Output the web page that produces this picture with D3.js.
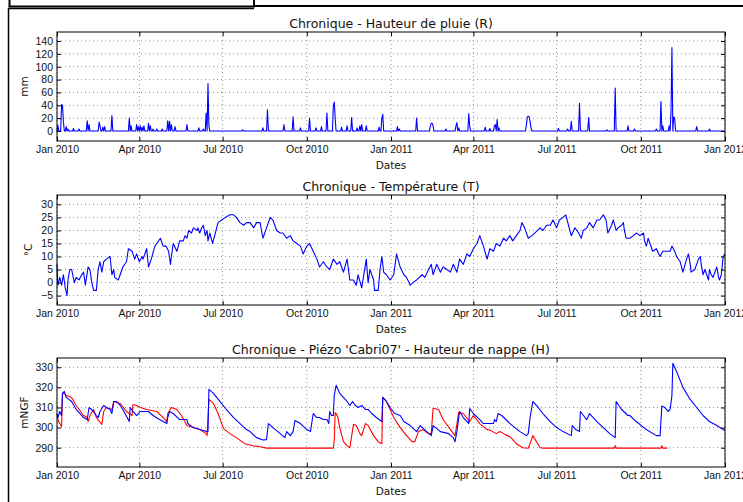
<!DOCTYPE html>
<html>
<head>
<meta charset="utf-8">
<script src="https://cdn.jsdelivr.net/npm/d3@7"></script>
<style>
body{margin:0;background:#fff;overflow:hidden;}
svg{display:block;font-family:"DejaVu Sans",sans-serif;}
.tick text{font-size:10.5px;fill:#111;}
</style>
</head>
<body>
<div class="chart"></div>
<script>
//data - days are counted from 1 Jan 2010
const xTickDates = ["2010-01-01","2010-04-01","2010-07-01","2010-10-01","2011-01-01","2011-04-01","2011-07-01","2011-10-01","2012-01-01"];
const rainTicks = [0,20,40,60,80,100,120,140];
const tempTicks = [-5,0,5,10,15,20,25,30];
const headTicks = [290,300,310,320,330];

// rainy days [day, mm], every other day is 0
const rainEvents = [[1,9],[5,41],[6,40],[7,15],[10,7],[12,3],[18,4],[24,3],[33,16],[35,10],[46,14],[47,8],[50,6],[52,7],[60,24],
 [79,20],[81,8],[87,10],[89,7],[91,8],[93,6],[95,8],[100,12],[102,8],[105,3],[109,3],[115,3],[121,16],[123,15],[125,10],[129,7],
 [142,10],[155,5],[160,3],[163,28],[165,74],[166,8],[203,2],[225,5],[230,33],[248,10],[258,22],[266,5],[276,20],[283,5],[289,7],
 [295,28],[302,40],[303,45],[304,20],[311,6],[317,8],[322,21],[328,5],[331,8],[333,10],[338,8],[352,6],[355,20],[356,26],[372,7],
 [374,3],[393,20],[408,8],[409,12],[410,12],[411,8],[425,3],[436,8],[437,13],[439,5],[450,27],[451,8],[468,6],[473,4],[478,8],
 [479,10],[481,18],[483,5],[513,10],[514,22],[515,23],[516,22],[517,15],[518,5],[548,4],[558,3],[562,15],[571,43],[581,21],[601,2],
 [610,67],[624,8],[631,3],[655,3],[660,46],[662,8],[669,8],[671,30],[672,130],[674,22],[675,20],[699,7],[713,3]];

// temperature [day, degC]
const tempPoints = [[0,7],[1,-1],[3,2],[5,-1],[7,3],[9,-2],[11,-5],[12,1],[14,5],[16,5],[19,0],[21,2],[24,1],[27,3],[29,4],[31,-1],
 [34,6],[36,5],[38,0],[40,-3],[43,-3],[45,5],[47,8],[49,4],[51,8],[54,9],[58,10],[60,3],[62,5],[63,2],[67,1],[69,3],[72,6],[76,8],
 [78,13],[82,12],[83,11],[85,9],[87,11],[90,8],[93,10],[94,9],[98,13],[100,6],[103,9],[107,14],[109,15],[113,17],[116,14],[119,14],
 [122,12],[124,7],[125,10],[127,15],[131,12],[134,16],[138,16],[140,18],[142,17],[144,20],[147,19],[149,21],[153,20],[154,21],
 [156,19],[158,21],[160,22],[162,18],[164,20],[165,16],[167,19],[170,15],[173,19],[176,23],[180,24],[184,25],[189,26],[193,26],
 [196,25],[200,23],[204,22],[207,23],[211,23],[215,21],[218,23],[222,23],[225,17],[229,21],[233,25],[236,24],[240,20],[244,19],
 [247,19],[251,17],[255,18],[258,16],[262,15],[266,14],[269,11],[273,14],[276,15],[280,12],[284,9],[287,6],[291,8],[295,6],[298,5],
 [302,9],[306,7],[309,8],[313,4],[317,9],[320,1],[324,1],[327,-1],[329,3],[333,-2],[338,9],[340,0],[342,5],[346,1],[347,-3],[351,-3],
 [353,5],[355,10],[357,4],[360,3],[364,1],[368,3],[371,11],[375,6],[379,3],[382,2],[386,-1],[389,0],[393,1],[399,3],[402,2],[406,5],
 [409,7],[411,3],[415,7],[419,4],[422,6],[426,5],[430,4],[433,7],[437,4],[440,9],[444,7],[448,11],[451,10],[455,13],[459,15],
 [462,18],[466,14],[470,9],[473,13],[477,12],[480,15],[484,14],[488,17],[491,16],[495,18],[498,16],[502,18],[506,20],[508,23],
 [511,21],[515,17],[519,18],[522,19],[528,21],[531,20],[535,22],[539,22],[542,24],[546,21],[549,24],[553,25],[556,26],[559,22],
 [562,18],[566,21],[570,19],[573,17],[575,20],[579,21],[582,23],[586,21],[590,24],[593,24],[597,26],[600,24],[602,19],[606,22],
 [608,24],[611,20],[613,21],[617,22],[619,23],[620,20],[622,17],[626,17],[630,18],[633,19],[637,18],[641,19],[642,16],[644,14],
 [646,17],[648,15],[651,12],[655,13],[659,10],[662,12],[666,12],[670,12],[672,14],[675,12],[677,10],[681,8],[684,4],[688,9],
 [690,11],[692,7],[693,4],[697,5],[701,9],[703,10],[704,7],[706,3],[708,5],[710,3],[712,1],[713,5],[715,3],[717,2],[721,6],
 [723,2],[724,1],[726,3],[728,10],[730,11]];

// water table, blue series [day, mNGF]
const headBlue = [[0,306],[1,305],[3,308],[5,306],[6,317],[8,318],[10,315],[16,313],[21,309],[29,305],[33,304],[35,310],[38,309],
 [43,306],[45,305],[47,308],[51,311],[54,310],[58,309],[60,307],[62,313],[65,313],[69,311],[72,309],[79,303],[80,310],[83,308],
 [87,306],[91,308],[94,308],[100,308],[105,306],[112,304],[120,302],[121,305],[123,308],[127,307],[134,304],[142,304],[143,302],
 [149,300],[156,299],[164,298],[165,298],[166,319],[171,317],[178,313],[185,309],[193,305],[200,302],[207,299],[211,298],[218,295],
 [225,293.8],[229,294],[231,302],[236,300],[244,297],[249,295],[251,298],[255,296],[258,298],[260,303.5],[266,302],[273,299],
 [277,298],[280,307],[284,305],[287,305],[291,304],[295,304],[297,302],[298,308],[300,306],[302,306],[303,316],[305,321],[309,317],
 [317,313],[320,311],[323,313],[326,311],[329,310],[333,311],[337,309],[340,309],[344,307],[349,305],[355,303],[356,315],[360,313],
 [364,310],[369,307],[375,306],[379,303],[386,301],[393,298],[397,301],[404,298],[409,296],[411,301],[419,298],[428,297],[433,295],
 [435,293],[437,298],[440,308],[444,305],[450,302],[451,309.5],[455,307],[462,304],[466,302],[470,302],[473,302],[477,302],
 [478,304],[480,303],[482,307],[486,306],[495,302],[506,298],[513,296],[515,297],[517,305],[520,313],[524,311],[531,307],[539,303],
 [546,300],[553,298],[562,296],[563,301],[567,299],[571,298],[572,308],[577,305],[579,304],[582,307],[590,303],[597,300],[604,297],
 [610,295],[611,313],[617,309],[624,306],[626,306],[633,303],[644,299],[655,296],[659,296],[661,310.8],[664,310],[668,308],
 [670,309],[672,316],[673,332],[677,328],[684,320],[692,314],[699,310],[706,306],[713,303],[721,301],[728,299],[730,298.5]];

// water table, red series [day, mNGF]
const headRed = [[0,307],[1,304],[3,302],[5,300.5],[6,317],[8,317],[10,316],[16,315],[21,311],[29,306],[33,305],[34,303],[36,306],
 [40,309],[43,305],[49,301.6],[51,308],[54,310],[60,309],[62,313],[69,312],[76,308],[82,306],[83,311.5],[87,311],[91,310],[98,309],
 [109,308],[116,305],[120,303],[121,307],[125,310],[131,309],[136,306],[142,301],[149,300],[156,299],[163,297],[164,296],[165,305],
 [166,314],[171,312],[176,307],[182,299.5],[189,297],[196,295],[205,292],[214,291],[222,290.5],[229,289.8],[302,289.8],[303,294],
 [304,307.5],[305,307],[307,305],[309,300],[313,293],[317,291],[320,290],[324,301.6],[327,301],[331,297],[333,296],[337,302],
 [340,301],[346,296],[351,293],[355,292],[356,315],[360,313],[368,305],[375,300],[382,296],[388,293],[391,293],[395,298],[400,299],
 [406,297],[409,297],[411,309.6],[417,309],[422,304],[430,299],[435,296],[439,307.6],[444,307],[451,303],[455,306],[462,302],
 [470,299],[473,298.8],[480,297],[484,298],[490,296.5],[495,295.5],[502,292],[509,290],[515,289.7],[517,292],[520,296],[524,293],
 [528,290],[532,289.8],[609,289.8],[610,291],[611,289.8],[660,289.8],[661,291],[662,289.8],[667,289.8]];

const width = 743, height = 502;
const left = 57, right = 725;

const start = new Date(2010, 0, 1);
const dayToDate = d => d3.timeDay.offset(start, d);
const parse = d3.timeParse("%Y-%m-%d");

// daily rain series
const rainMap = new Map(rainEvents);
const rainDaily = d3.range(0, 731).map(d => [d, rainMap.get(d) || 0]);

const x = d3.scaleTime()
    .domain([start, new Date(2012, 0, 1)])
    .range([left, right]);

const panels = [
  {title: "Chronique - Hauteur de pluie (R)", ylabel: "mm", labelX: 28, top: 32, bottom: 141,
   domain: [-15.5, 154], ticks: rainTicks, series: [{data: rainDaily, color: "#0000ff"}]},
  {title: "Chronique - Température (T)", ylabel: "°C", labelX: 32, top: 195, bottom: 305,
   domain: [-8.6, 33.6], ticks: tempTicks, series: [{data: tempPoints, color: "#0000ff"}]},
  {title: "Chronique - Piézo 'Cabri07' - Hauteur de nappe (H)", ylabel: "mNGF", labelX: 28, top: 358, bottom: 467,
   domain: [280.4, 334.6], ticks: headTicks, series: [{data: headRed, color: "#ff0000"}, {data: headBlue, color: "#0000ff"}]}
];

const svg = d3.select(".chart")
    .append("svg")
    .attr("width", width)
    .attr("height", height);

svg.append("rect").attr("width", width).attr("height", height).attr("fill", "#fff");

//window frame around the figure
svg.append("rect")
    .attr("x", 9.5).attr("y", -3)
    .attr("width", 244.5).attr("height", 9.5)
    .attr("fill", "none").attr("stroke", "#000").attr("stroke-width", 2);
svg.append("path")
    .attr("d", "M8.5,503V8.5H254")
    .attr("fill", "none").attr("stroke", "#000").attr("stroke-width", 1.5);
svg.append("path")
    .attr("d", "M254,6H744")
    .attr("fill", "none").attr("stroke", "#000").attr("stroke-width", 2);

panels.forEach(p => {
  const y = d3.scaleLinear().domain(p.domain).range([p.bottom, p.top]);
  const g = svg.append("g");

  //grid
  g.append("g").selectAll("line")
      .data(xTickDates.map(parse))
      .enter().append("line")
      .attr("x1", d => x(d)).attr("x2", d => x(d))
      .attr("y1", p.top).attr("y2", p.bottom)
      .attr("stroke", "#777").attr("stroke-width", 0.8).attr("stroke-dasharray", "1,3");
  g.append("g").selectAll("line")
      .data(p.ticks)
      .enter().append("line")
      .attr("x1", left).attr("x2", right)
      .attr("y1", d => y(d)).attr("y2", d => y(d))
      .attr("stroke", "#777").attr("stroke-width", 0.8).attr("stroke-dasharray", "1,3");

  //series
  const line = d3.line()
      .x(d => x(dayToDate(d[0])))
      .y(d => y(d[1]));
  p.series.forEach(s => {
    g.append("path")
        .datum(s.data)
        .attr("d", line)
        .attr("fill", "none")
        .attr("stroke", s.color)
        .attr("stroke-width", 1.1)
        .attr("stroke-linejoin", "round");
  });

  //axes, ticks pointing inside
  const fmt = d3.timeFormat("%b %Y");
  g.append("g")
      .attr("transform", "translate(0," + p.bottom + ")")
      .call(d3.axisBottom(x).tickValues(xTickDates.map(parse)).tickFormat(fmt).tickSize(-4).tickPadding(5))
      .call(a => a.select(".domain").remove());
  g.append("g")
      .attr("transform", "translate(0," + p.top + ")")
      .call(d3.axisTop(x).tickValues(xTickDates.map(parse)).tickFormat("").tickSize(-4))
      .call(a => a.select(".domain").remove());
  g.append("g")
      .attr("transform", "translate(" + left + ",0)")
      .call(d3.axisLeft(y).tickValues(p.ticks).tickSize(-4).tickPadding(4))
      .call(a => a.select(".domain").remove());
  g.append("g")
      .attr("transform", "translate(" + right + ",0)")
      .call(d3.axisRight(y).tickValues(p.ticks).tickFormat("").tickSize(-4))
      .call(a => a.select(".domain").remove());
  g.selectAll(".tick line").attr("stroke", "#000");

  g.append("rect")
      .attr("x", left).attr("y", p.top)
      .attr("width", right - left).attr("height", p.bottom - p.top)
      .attr("fill", "none").attr("stroke", "#000").attr("stroke-width", 1);

  //labels
  g.append("text")
      .attr("x", (left + right) / 2).attr("y", p.top - 4)
      .attr("text-anchor", "middle")
      .style("font-size", "12.5px")
      .style("fill", "#111")
      .text(p.title);
  g.append("text")
      .attr("x", (left + right) / 2).attr("y", p.bottom + 27.5)
      .attr("text-anchor", "middle")
      .style("font-size", "10.5px")
      .style("fill", "#111")
      .text("Dates");
  g.append("text")
      .attr("transform", "translate(" + p.labelX + "," + (p.top + p.bottom) / 2 + ") rotate(-90)")
      .attr("text-anchor", "middle")
      .style("font-size", "10.5px")
      .style("fill", "#111")
      .text(p.ylabel);
});
</script>
</body>
</html>
